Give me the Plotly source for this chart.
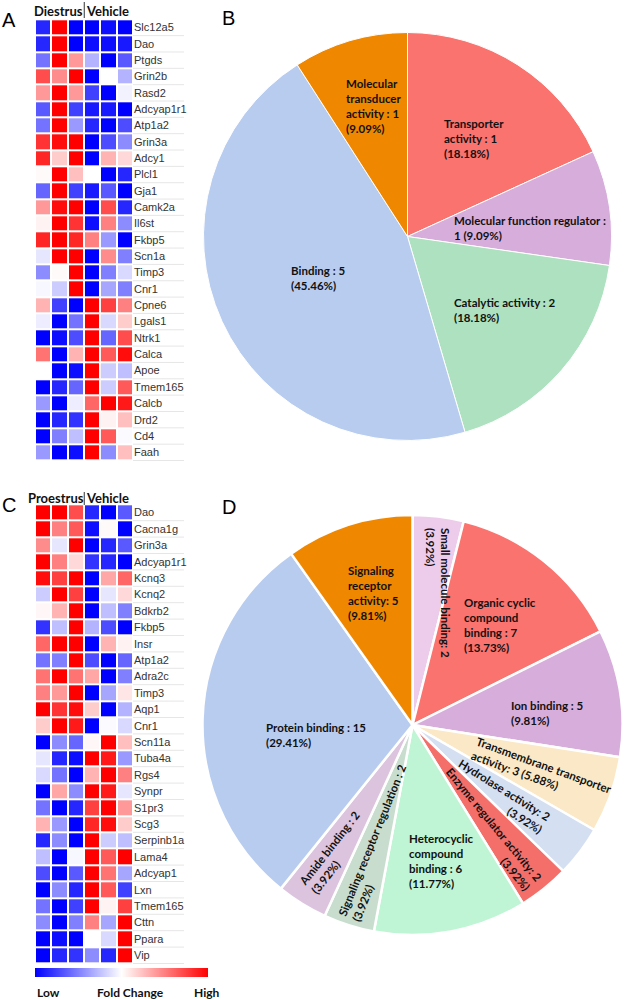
import plotly.graph_objects as go

# ---------------- DATA ----------------
genes_A = ["Slc12a5", "Dao", "Ptgds", "Grin2b", "Rasd2", "Adcyap1r1", "Atp1a2", "Grin3a",
           "Adcy1", "Plcl1", "Gja1", "Camk2a", "Il6st", "Fkbp5", "Scn1a", "Timp3", "Cnr1",
           "Cpne6", "Lgals1", "Ntrk1", "Calca", "Apoe", "Tmem165", "Calcb", "Drd2", "Cd4", "Faah"]
values_A = [
    [-0.85, 1, -1, -1, -0.95, -1],
    [-0.85, 1, -1, -0.95, -0.95, -0.9],
    [-0.55, 1, 0.4, -0.3, -1, -0.65],
    [0.7, 0.45, 1, -1, 0, -0.3],
    [0.4, 1, 0.4, -0.75, -1, -0.05],
    [-0.65, 1, -0.75, -0.9, -0.9, -1],
    [-0.55, 1, -0.4, -0.85, -1, -0.7],
    [0.8, 0.95, 1, -1, -0.7, -0.45],
    [0.85, 0.2, 1, -1, 0.3, 0.15],
    [0.02, 1, 0.25, 0, -1, -0.85],
    [-0.6, 1, -0.75, -0.9, -0.65, -1],
    [0.4, 0.95, 1, -1, 0.7, -0.85],
    [0.05, 1, 0.8, -0.95, 0.5, -0.45],
    [0.85, 1, 0.85, 0.5, -0.4, -1],
    [-0.1, 1, 1, -1, 0.45, -0.5],
    [-0.45, 0.02, 1, -1, -0.5, -0.15],
    [-0.03, -0.2, 1, -1, -0.35, -0.5],
    [0.3, -0.75, -1, 1, 0.75, 0.5],
    [-0.07, -1, -0.55, 1, -0.15, 0.2],
    [-1, -0.95, -0.7, 1, -0.6, 0.7],
    [0.55, -1, 0.3, 1, 0.65, 0.95],
    [0, -1, -0.95, 1, -0.2, -0.25],
    [-1, -0.85, -0.6, 1, -0.2, 0.65],
    [-0.4, -1, -0.07, 0.6, 1, 0.9],
    [-1, -0.85, -0.8, 1, 0.05, 0.25],
    [-1, -0.5, -0.25, 1, 0.65, -0.02],
    [-0.4, -1, -0.95, 1, -0.45, 0.25],
]
genes_C = ["Dao", "Cacna1g", "Grin3a", "Adcyap1r1", "Kcnq3", "Kcnq2", "Bdkrb2", "Fkbp5", "Insr",
           "Atp1a2", "Adra2c", "Timp3", "Aqp1", "Cnr1", "Scn11a", "Tuba4a", "Rgs4", "Synpr",
           "S1pr3", "Scg3", "Serpinb1a", "Lama4", "Adcyap1", "Lxn", "Tmem165", "Cttn", "Ppara", "Vip"]
values_C = [
    [1, 1, 0.7, -0.85, -1, -0.65],
    [1, 0.5, 0.65, -0.95, 0.02, -1],
    [0.45, -0.1, 1, -1, -0.85, -0.65],
    [1, 0.5, 0.15, -0.8, -0.85, -1],
    [0.95, 0.75, 1, -1, 0.35, 0.6],
    [-0.2, 1, 0.75, -1, -0.1, 0.15],
    [0.03, 0.3, 1, -1, -0.25, -0.5],
    [-0.8, -0.25, 1, -0.3, -0.7, -1],
    [0.6, 1, 1, -1, 0.3, 0.05],
    [-0.55, -0.5, 1, -0.7, -1, -0.6],
    [0.55, 1, 0.55, 0.35, -1, -0.5],
    [0.5, 0.4, 1, -1, -0.35, 0.1],
    [1, 0.8, 0.95, 0.2, -1, -0.3],
    [0.2, 1, 0.9, -1, -0.02, -0.15],
    [-1, -0.45, -0.6, 0.03, 1, 0.25],
    [-0.1, -0.85, -0.95, 1, 0.9, -0.4],
    [-0.15, -0.55, -1, 0.3, 1, 0.5],
    [-1, 0.35, -0.45, 1, 0.9, -0.1],
    [-0.55, -1, -0.85, 0.75, 1, 0.4],
    [0.3, -0.4, -1, 0.85, 0.95, 0.2],
    [-0.85, -0.45, -1, 1, -0.2, -0.25],
    [-0.25, -1, -0.03, 1, 0.65, 1],
    [-0.7, -1, -0.65, 1, 0.55, -0.35],
    [-1, -0.45, -0.85, 1, 0.65, -0.75],
    [-0.55, -1, -0.75, 1, 0.05, 0.75],
    [-0.45, -1, -0.5, 0.5, -0.35, 1],
    [-1, -0.95, -1, 0, -0.15, 1],
    [-1, -0.85, -0.8, -0.45, -0.85, 1],
]
sample_cols = ["s1", "s2", "s3", "v1", "v2", "v3"]

pieB_names = ["Transporter activity", "Molecular function regulator", "Catalytic activity",
              "Binding", "Molecular transducer activity"]
pieB_counts = [1, 1, 2, 5, 1]
pieB_pct = [18.18, 9.09, 18.18, 45.46, 9.09]
pieB_colors = ["#FA736E", "#D7ADDB", "#ADE1BF", "#B8CCF0", "#F08700"]

pieD_names = ["Small molecule binding", "Organic cyclic compound binding", "Ion binding",
              "Transmembrane transporter activity", "Hydrolase activity", "Enzyme regulator activity",
              "Heterocyclic compound binding", "Signaling receptor regulation", "Amide binding",
              "Protein binding", "Signaling receptor activity"]
pieD_counts = [2, 7, 5, 3, 2, 2, 6, 2, 2, 15, 5]
pieD_pct = [3.92, 13.73, 9.81, 5.88, 3.92, 3.92, 11.77, 3.92, 3.92, 29.41, 9.81]
pieD_colors = ["#EDCBEA", "#FA736E", "#D7ADDB", "#FBE8C6", "#D4DFF2", "#F46E6A",
               "#BFF5D4", "#C9DDCF", "#DCC4DE", "#B8CCF0", "#F08700"]

# ---------------- FIGURE ----------------
W, H = 627, 1000
def px(x): return x / W
def py(y): return 1 - y / H

fig = go.Figure()
cscale = [[0, "#0000FF"], [0.5, "#FFFFFF"], [1, "#FF0000"]]

fig.add_trace(go.Heatmap(z=values_A, x=sample_cols, y=genes_A, coloraxis="coloraxis",
                         xgap=2, ygap=2, xaxis="x", yaxis="y", hoverinfo="skip"))
fig.add_trace(go.Heatmap(z=values_C, x=sample_cols, y=genes_C, coloraxis="coloraxis",
                         xgap=2, ygap=2, xaxis="x2", yaxis="y2", hoverinfo="skip"))

fig.add_trace(go.Pie(values=pieB_pct, labels=pieB_names, marker=dict(colors=pieB_colors,
                     line=dict(color="white", width=1)), sort=False, direction="clockwise",
                     rotation=0, textinfo="none", hoverinfo="label+value",
                     domain=dict(x=[px(203.5), px(611.5)], y=[py(440.5), py(32.5)]),
                     showlegend=False))
fig.add_trace(go.Pie(values=pieD_pct, labels=pieD_names, marker=dict(colors=pieD_colors,
                     line=dict(color="white", width=2.5)), sort=False, direction="clockwise",
                     rotation=0, textinfo="none", hoverinfo="label+value",
                     domain=dict(x=[px(202.5), px(622.5)], y=[py(935), py(515)]),
                     showlegend=False))

tickfont = dict(family="Liberation Sans, Arial", size=11, color="#333333")
hx = [px(35), px(133)]
fig.update_layout(
    width=W, height=H, margin=dict(l=0, r=0, t=0, b=0),
    paper_bgcolor="white", plot_bgcolor="white",
    xaxis=dict(domain=hx, showticklabels=False, showgrid=False, zeroline=False, anchor="y"),
    yaxis=dict(domain=[py(461), py(19.3)], autorange="reversed", side="right", ticks="",
               showgrid=False, zeroline=False, tickfont=tickfont, anchor="x"),
    xaxis2=dict(domain=hx, showticklabels=False, showgrid=False, zeroline=False, anchor="y2"),
    yaxis2=dict(domain=[py(964), py(504.3)], autorange="reversed", side="right", ticks="",
                showgrid=False, zeroline=False, tickfont=tickfont, anchor="x2"),
    coloraxis=dict(colorscale=cscale, cmin=-1, cmax=1,
                   colorbar=dict(orientation="h", x=px(35), xanchor="left", y=py(977),
                                 yanchor="bottom", len=(208 - 35) / W, lenmode="fraction",
                                 thickness=9, showticklabels=False, ticks="", outlinewidth=0,
                                 xpad=0, ypad=0)),
)

shapes = []
# faint separators in the gene label column
for ax, n in (("y", len(genes_A)), ("y2", len(genes_C))):
    for k in range(n):
        shapes.append(dict(type="line", xref="paper", yref=ax, x0=px(133), x1=px(184),
                           y0=k + 0.5, y1=k + 0.5, line=dict(color="#E6E6E6", width=1)))
# vertical separators in headers
shapes.append(dict(type="line", xref="paper", yref="paper", x0=px(84.3), x1=px(84.3),
                   y0=py(18), y1=py(2), line=dict(color="#555555", width=1.2)))
shapes.append(dict(type="line", xref="paper", yref="paper", x0=px(84.3), x1=px(84.3),
                   y0=py(505), y1=py(492), line=dict(color="#555555", width=1.2)))
fig.update_layout(shapes=shapes)

ann = []
def A(text, x, y, size=11.5, xanchor="left", yanchor="top", align="left", angle=0,
      family="Lato", bold=True, color="#111111"):
    t = f"<b>{text}</b>" if bold else text
    ann.append(dict(text=t, x=px(x), y=py(y), xref="paper", yref="paper", showarrow=False,
                    xanchor=xanchor, yanchor=yanchor, align=align, textangle=angle,
                    font=dict(family=family, size=size, color=color)))

# panel letters
A("A", 0, 7, size=20, family="Liberation Sans, Arial", bold=False, color="#000")
A("B", 220, 5, size=20, family="Liberation Sans, Arial", bold=False, color="#000")
A("C", 0, 492, size=20, family="Liberation Sans, Arial", bold=False, color="#000")
A("D", 220, 494, size=20, family="Liberation Sans, Arial", bold=False, color="#000")

# heatmap headers
A("Diestrus", 58, 11, size=13, xanchor="center", yanchor="middle")
A("Vehicle", 107.5, 11, size=13, xanchor="center", yanchor="middle")
A("Proestrus", 55.5, 498, size=13, xanchor="center", yanchor="middle")
A("Vehicle", 107.5, 498, size=13, xanchor="center", yanchor="middle")

# colorbar labels
A("Low", 48, 992, size=12, xanchor="center", yanchor="middle")
A("Fold Change", 130, 992, size=12, xanchor="center", yanchor="middle")
A("High", 207, 992, size=12, xanchor="center", yanchor="middle")

# pie B labels
A(f"Molecular<br>transducer<br>activity : {pieB_counts[4]}<br>({pieB_pct[4]:.2f}%)", 344, 75)
A(f"Transporter<br>activity : {pieB_counts[0]}<br>({pieB_pct[0]:.2f}%)", 442, 115)
A(f"Molecular function regulator :<br>{pieB_counts[1]} ({pieB_pct[1]:.2f}%)", 452, 212)
A(f"Binding : {pieB_counts[3]}<br>({pieB_pct[3]:.2f}%)", 289, 262)
A(f"Catalytic activity : {pieB_counts[2]}<br>({pieB_pct[2]:.2f}%)", 452, 294)

# pie D labels
A(f"Signaling<br>receptor<br>activity: {pieD_counts[10]}<br>({pieD_pct[10]:.2f}%)", 346, 562)
A(f"Organic cyclic<br>compound<br>binding : {pieD_counts[1]}<br>({pieD_pct[1]:.2f}%)", 462, 594)
A(f"Ion binding : {pieD_counts[2]}<br>({pieD_pct[2]:.2f}%)", 509, 697)
A(f"Protein binding : {pieD_counts[9]}<br>({pieD_pct[9]:.2f}%)", 264, 719)
A(f"Heterocyclic<br>compound<br>binding : {pieD_counts[6]}<br>({pieD_pct[6]:.2f}%)", 407, 830)
A(f"Small molecule binding: {pieD_counts[0]}<br>({pieD_pct[0]:.2f}%)", 438, 593,
  xanchor="center", yanchor="middle", angle=90)
A(f"Transmembrane transporter<br>activity: {pieD_counts[3]} ({pieD_pct[3]:.2f}%)", 541, 772,
  xanchor="center", yanchor="middle", angle=20)
A(f"Hydrolase activity: {pieD_counts[4]}<br>({pieD_pct[4]:.2f}%)", 500, 796,
  xanchor="center", yanchor="middle", angle=32, align="right")
A(f"Enzyme regulator activity: {pieD_counts[5]}<br>({pieD_pct[5]:.2f}%)", 488, 829,
  xanchor="center", yanchor="middle", angle=50.5, align="right")
A(f"Signaling receptor regulation : {pieD_counts[7]}<br>({pieD_pct[7]:.2f}%)", 379, 843,
  xanchor="center", yanchor="middle", angle=-68)
A(f"Amide binding : {pieD_counts[8]}<br>({pieD_pct[8]:.2f}%)", 335, 853,
  xanchor="center", yanchor="middle", angle=-52)

fig.update_layout(annotations=ann)
# remove the default page margin so the 627x1000 figure fills the window exactly
fig.write_html("out.html", config={"displayModeBar": False},
               post_script="document.body.style.margin='0';")
